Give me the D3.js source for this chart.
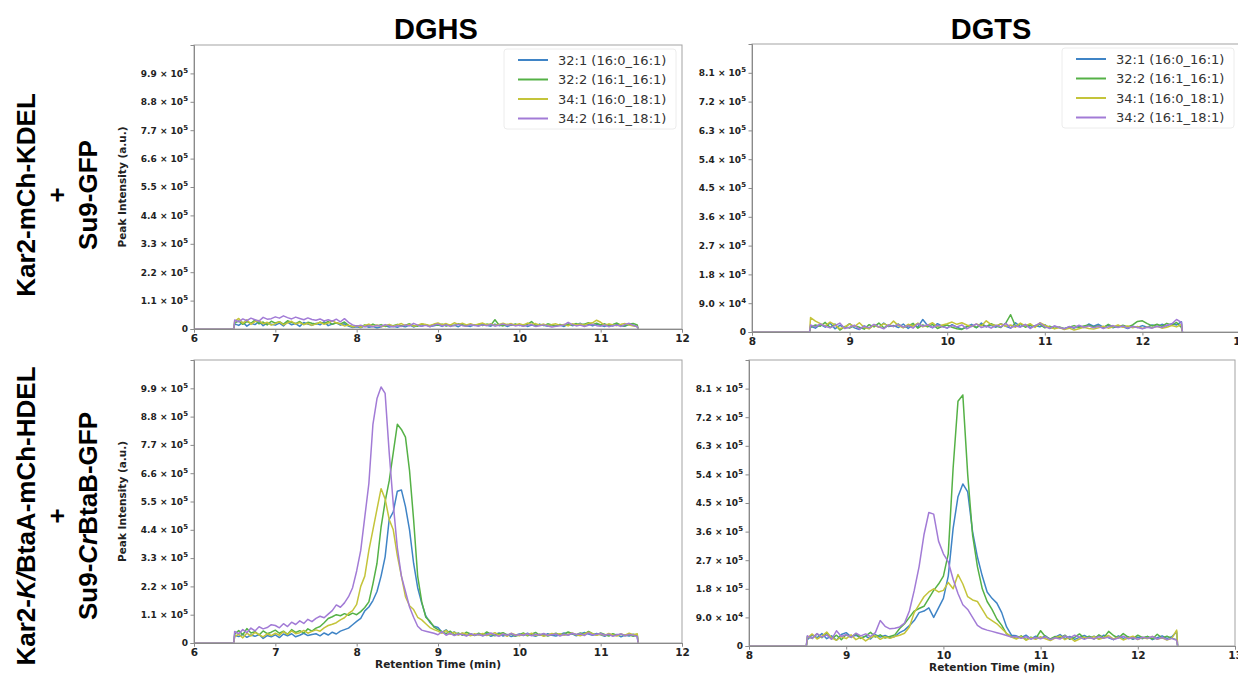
<!DOCTYPE html>
<html>
<head>
<meta charset="utf-8">
<script src="https://cdn.jsdelivr.net/npm/d3@7"></script>
<style>
  body { margin: 0; background: #fff; }
  svg { display: block; }
</style>
</head>
<body>
<svg id="chart" width="1238" height="678"></svg>
<script>
// lipid species shown in every panel
const lipidNames = ["32:1 (16:0_16:1)", "32:2 (16:1_16:1)", "34:1 (16:0_18:1)", "34:2 (16:1_18:1)"];
const lipidColors = ["#3f84c6", "#55b146", "#c4c43a", "#a27bd6"];

const columnTitles = ["DGHS", "DGTS"];

// axis ticks (intensity in units of 10^4 a.u.)
const dghsTimeTicks = [6, 7, 8, 9, 10, 11, 12];
const dgtsTimeTicks = [8, 9, 10, 11, 12, 13];
const dghsIntTicks = [0, 11, 22, 33, 44, 55, 66, 77, 88, 99];
const dgtsIntTicks = [0, 9, 18, 27, 36, 45, 54, 63, 72, 81];

// retention time (min)
const dghsTime = [
  6.00, 6.49,
  6.50, 6.55, 6.60, 6.65, 6.70, 6.75, 6.80, 6.85, 6.90, 6.95,
  7.00, 7.05, 7.10, 7.15, 7.20, 7.25, 7.30, 7.35, 7.40, 7.45,
  7.50, 7.55, 7.60, 7.65, 7.70, 7.75, 7.80, 7.85, 7.90, 7.95,
  8.00, 8.05, 8.10, 8.15, 8.20, 8.25, 8.30, 8.35, 8.40, 8.45,
  8.50, 8.55, 8.60, 8.65, 8.70, 8.75, 8.80, 8.85, 8.90, 8.95,
  9.00, 9.05, 9.10, 9.15, 9.20, 9.25, 9.30, 9.35, 9.40, 9.45,
  9.50, 9.55, 9.60, 9.65, 9.70, 9.75, 9.80, 9.85, 9.90, 9.95,
  10.00, 10.05, 10.10, 10.15, 10.20, 10.25, 10.30, 10.35, 10.40, 10.45,
  10.50, 10.55, 10.60, 10.65, 10.70, 10.75, 10.80, 10.85, 10.90, 10.95,
  11.00, 11.05, 11.10, 11.15, 11.20, 11.25, 11.30, 11.35, 11.40, 11.45,
  11.46
];

const dgtsTime = [
  8.00, 8.59,
  8.60, 8.65, 8.70, 8.75, 8.80, 8.85, 8.90, 8.95,
  9.00, 9.05, 9.10, 9.15, 9.20, 9.25, 9.30, 9.35, 9.40, 9.45,
  9.50, 9.55, 9.60, 9.65, 9.70, 9.75, 9.80, 9.85, 9.90, 9.95,
  10.00, 10.05, 10.10, 10.15, 10.20, 10.25, 10.30, 10.35, 10.40, 10.45,
  10.50, 10.55, 10.60, 10.65, 10.70, 10.75, 10.80, 10.85, 10.90, 10.95,
  11.00, 11.05, 11.10, 11.15, 11.20, 11.25, 11.30, 11.35, 11.40, 11.45,
  11.50, 11.55, 11.60, 11.65, 11.70, 11.75, 11.80, 11.85, 11.90, 11.95,
  12.00, 12.05, 12.10, 12.15, 12.20, 12.25, 12.30, 12.35, 12.40,
  12.41
];

// ---- DGHS, Kar2-mCh-KDEL + Su9-GFP (x10^4) ----
const dghsCtrl321 = [0, 0,
  2.0, 1.4, 2.6, 1.1, 2.2, 1.7, 2.9, 1.3, 2.4, 1.8,
  1.5, 2.3, 1.2, 2.7, 1.6, 2.1, 1.0, 2.5, 1.9, 1.4,
  2.2, 1.6, 2.8, 1.3, 1.9, 2.4, 1.5, 2.0, 1.1, 0.6,
  0.9, 0.5, 1.2, 0.7, 1.0, 0.4, 0.9, 1.3, 0.8, 1.1,
  0.7, 1.2, 0.9, 1.5, 0.8, 1.4, 1.1, 1.7, 1.0, 1.3,
  1.6, 1.0, 1.8, 1.2, 1.5, 0.9, 1.7, 1.3, 1.0, 1.6,
  1.2, 1.8, 1.4, 1.1, 1.9, 1.3, 1.6, 1.0, 1.5, 1.8,
  1.3, 1.7, 1.0, 1.5, 1.2, 1.9, 1.4, 1.1, 1.6, 1.2,
  1.5, 1.0, 1.8, 1.3, 1.6, 2.2, 1.4, 1.9, 1.2, 1.7,
  1.4, 1.0, 1.6, 1.2, 1.8, 1.3, 1.1, 1.7, 1.5, 1.0,
  0];
const dghsCtrl322 = [0, 0,
  2.4, 3.1, 1.8, 2.9, 2.2, 3.5, 2.0, 2.7, 1.6, 3.0,
  2.3, 2.8, 1.9, 3.2, 2.5, 2.1, 2.9, 1.7, 2.6, 2.2,
  1.9, 2.6, 2.1, 2.9, 1.8, 2.4, 2.0, 2.7, 1.4, 1.0,
  1.3, 0.8, 1.6, 1.1, 1.9, 1.2, 1.7, 1.0, 1.5, 1.3,
  1.8, 1.2, 1.5, 2.0, 1.4, 1.1, 1.9, 1.5, 1.2, 1.7,
  1.4, 1.9, 1.1, 1.6, 1.3, 2.0, 1.5, 1.2, 1.8, 1.4,
  1.7, 1.3, 1.9, 1.5, 3.6, 1.6, 1.2, 1.8, 1.4, 1.9,
  1.5, 1.2, 1.8, 2.9, 1.4, 1.7, 1.3, 2.0, 1.6, 1.2,
  1.8, 1.4, 1.9, 1.6, 2.1, 1.5, 1.9, 2.4, 1.7, 2.2,
  1.6, 2.0, 1.4, 1.8, 2.3, 1.5, 1.2, 1.9, 2.1, 1.6,
  0];
const dghsCtrl341 = [0, 0,
  3.0, 4.1, 2.2, 3.6, 1.8, 2.9, 3.3, 2.0, 2.6, 1.5,
  2.1, 2.8, 1.6, 2.4, 3.0, 1.9, 2.5, 1.7, 2.2, 1.4,
  2.0, 2.6, 1.8, 2.3, 3.2, 2.4, 1.9, 1.2, 1.5, 0.8,
  1.2, 0.7, 1.4, 1.9, 1.0, 1.6, 0.9, 1.3, 1.8, 1.1,
  1.6, 2.1, 1.3, 1.8, 1.1, 1.5, 2.0, 1.7, 1.4, 1.9,
  2.3, 1.7, 2.1, 1.5, 2.4, 1.8, 2.2, 1.6, 2.0, 1.5,
  1.9, 2.3, 1.6, 2.0, 1.4, 1.8, 2.2, 1.7, 2.1, 1.5,
  2.0, 1.6, 2.3, 1.8, 2.1, 1.5, 1.9, 1.3, 1.7, 2.0,
  1.4, 1.8, 1.2, 2.0, 1.6, 1.9, 1.5, 2.2, 2.4, 3.4,
  2.6, 1.4, 2.0, 1.6, 1.3, 1.8, 2.1, 1.5, 1.2, 1.0,
  0];
const dghsCtrl342 = [0, 0,
  3.5, 2.8, 3.9, 3.2, 4.2, 3.6, 3.1, 4.5, 3.8, 4.0,
  4.7, 4.2, 5.1, 4.4, 3.9, 4.6, 4.1, 3.6, 4.3, 3.7,
  3.4, 3.9, 3.1, 3.6, 3.0, 3.8, 2.8, 4.0, 2.6, 1.6,
  1.1, 1.5, 0.8, 1.3, 0.9, 1.4, 1.0, 1.7, 1.2, 0.9,
  1.3, 1.0, 1.6, 1.2, 2.2, 1.5, 1.1, 1.4, 0.9, 1.5,
  1.9, 1.2, 1.6, 1.0, 1.4, 1.8, 1.3, 1.1, 1.6, 1.4,
  1.2, 1.6, 1.3, 1.8, 1.1, 1.5, 1.9, 1.4, 1.7, 1.2,
  1.5, 1.1, 1.4, 1.7, 1.0, 1.3, 1.6, 1.2, 0.8, 1.1,
  1.3, 1.6, 2.6, 1.7, 1.2, 1.5, 1.0, 1.4, 1.8, 1.3,
  1.1, 1.6, 0.9, 1.3, 1.5, 1.0, 1.8, 2.2, 1.4, 0.9,
  0];

// ---- DGHS, Kar2-K/BtaA-mCh-HDEL + Su9-CrBtaB-GFP (x10^4) ----
const dghsBta321 = [0, 0,
  3.0, 2.5, 3.4, 2.2, 3.1, 2.6, 3.3, 1.8, 2.9, 2.4,
  3.2, 2.1, 3.5, 2.8, 3.6, 2.4, 3.0, 3.8, 2.9, 3.3,
  3.6, 2.8, 3.9, 3.1, 4.2, 3.5, 4.6, 5.2, 5.8, 7.1,
  8.4, 9.6, 12.5, 14.0, 16.5, 20.0, 26.0, 33.5, 48.0, 51.0,
  59.0, 59.5, 53.0, 44.0, 31.0, 21.5, 15.5, 10.5, 8.0, 6.5,
  6.0, 4.2, 5.1, 3.6, 4.3, 3.2, 3.8, 2.9, 3.5, 3.1,
  3.4, 2.8, 3.6, 2.6, 3.2, 3.9, 2.7, 3.3, 2.5, 3.0,
  3.5, 2.9, 3.8, 3.1, 2.6, 3.4, 2.8, 3.6, 3.0, 2.7,
  3.3, 3.9, 3.2, 3.6, 2.8, 3.4, 4.1, 3.5, 3.0, 3.7,
  3.2, 2.6, 3.5, 2.9, 3.3, 2.4, 3.1, 2.7, 3.4, 2.8,
  0];
const dghsBta322 = [0, 0,
  3.5, 4.8, 3.2, 5.6, 3.9, 4.4, 3.1, 4.7, 3.6, 4.2,
  5.0, 3.8, 4.6, 3.4, 5.2, 4.1, 4.8, 3.9, 5.5, 4.6,
  5.8, 6.4, 7.9, 9.5, 10.2, 11.0, 10.6, 11.4, 10.8, 11.6,
  11.0, 12.2, 13.8, 16.0, 23.0, 31.0, 45.0, 55.0, 63.0, 74.0,
  85.0, 83.0, 80.0, 67.0, 48.0, 26.0, 16.0, 10.0, 8.5, 6.2,
  5.2, 4.4, 3.6, 4.6, 3.2, 3.9, 3.0, 4.2, 3.5, 2.9,
  3.8, 3.1, 4.3, 3.4, 2.8, 3.6, 4.0, 3.1, 3.5, 2.6,
  3.2, 3.9, 2.8, 3.4, 4.1, 3.0, 3.6, 2.7, 3.3, 3.8,
  3.0, 3.5, 4.3, 3.7, 3.2, 3.9, 3.4, 4.5, 3.6, 3.1,
  3.9, 3.3, 2.7, 3.6, 3.0, 3.4, 2.8, 3.2, 2.6, 3.1,
  0];
const dghsBta341 = [0, 0,
  2.6, 3.4, 2.0, 3.8, 2.7, 4.1, 3.2, 2.4, 3.6, 2.9,
  3.8, 3.0, 4.4, 3.3, 4.7, 3.6, 4.0, 4.9, 3.8, 4.5,
  5.1, 4.6, 5.9, 6.8, 7.3, 7.9, 9.0, 9.8, 11.5, 12.6,
  15.0, 22.0, 26.0, 36.0, 44.0, 52.0, 60.0, 56.0, 48.0, 44.0,
  34.0, 26.0, 18.0, 14.5, 13.0, 10.0, 9.0, 7.5, 6.0, 5.2,
  4.6, 3.8, 4.9, 3.4, 4.2, 3.1, 3.9, 3.5, 2.8, 3.6,
  3.1, 3.7, 2.9, 3.4, 4.0, 3.0, 3.5, 2.6, 3.8, 3.2,
  2.8, 3.5, 3.1, 3.8, 2.9, 3.4, 2.6, 3.1, 3.7, 3.3,
  3.6, 3.0, 3.4, 3.9, 3.2, 2.8, 3.5, 4.2, 3.6, 3.0,
  3.4, 2.9, 3.7, 3.1, 2.7, 3.5, 3.0, 3.8, 3.2, 3.6,
  0];
const dghsBta342 = [0, 0,
  4.5, 3.6, 5.2, 4.0, 5.8, 4.7, 6.3, 5.5, 6.0, 7.1,
  6.8, 5.9, 7.5, 6.4, 8.1, 7.2, 8.6, 7.6, 9.2, 8.3,
  9.6, 10.4, 9.8, 11.2, 12.6, 14.8, 13.9, 15.6, 18.0, 21.5,
  28.0, 36.0, 49.0, 62.0, 85.0, 95.0, 99.5, 97.0, 74.0, 54.0,
  37.0, 26.0, 20.0, 14.0, 10.0, 6.5, 5.0, 4.6, 4.2, 3.8,
  3.2, 4.4, 3.0, 3.8, 2.9, 3.5, 3.3, 2.7, 3.6, 3.0,
  3.4, 2.8, 3.2, 3.9, 3.1, 2.6, 3.5, 3.0, 3.7, 2.9,
  3.3, 3.0, 3.6, 2.8, 3.4, 3.1, 3.7, 2.9, 3.2, 3.5,
  2.7, 3.4, 3.0, 3.8, 3.3, 3.6, 2.9, 3.9, 3.1, 3.4,
  3.7, 3.0, 3.4, 2.6, 3.2, 3.5, 2.8, 3.3, 3.0, 2.5,
  0];

// ---- DGTS, Kar2-mCh-KDEL + Su9-GFP (x10^4) ----
const dgtsCtrl321 = [0, 0,
  1.8, 1.2, 2.4, 1.5, 2.8, 1.0, 2.1, 1.4,
  2.6, 1.3, 0.8, 1.9, 1.1, 2.3, 1.5, 2.8, 1.7, 2.0,
  1.4, 2.5, 1.1, 2.2, 1.6, 3.9, 2.0, 1.3, 2.6, 1.8,
  1.2, 2.3, 1.5, 0.9, 1.7, 2.4, 1.3, 2.8, 1.6, 2.1,
  1.5, 2.6, 1.8, 1.2, 2.9, 1.7, 2.2, 1.4, 2.0, 1.6,
  2.3, 1.1, 1.8, 1.3, 1.0, 1.6, 1.2, 1.9, 1.4, 2.5,
  1.8, 2.4, 1.5, 2.1, 1.3, 2.0, 1.6, 1.1, 1.8, 1.4,
  2.0, 1.5, 2.2, 1.7, 2.4, 1.9, 2.6, 2.2, 3.2,
  0];
const dgtsCtrl322 = [0, 0,
  1.5, 2.2, 1.8, 3.0, 1.4, 2.5, 0.6, 1.7,
  1.2, 2.0, 1.5, 0.9, 2.3, 1.6, 2.8, 1.3, 2.1, 1.7,
  2.5, 1.4, 1.9, 2.7, 1.2, 2.2, 1.6, 2.4, 1.1, 1.8,
  2.2, 1.5, 1.0, 0.8, 1.6, 2.0, 1.4, 2.3, 1.7, 2.6,
  1.9, 1.4, 2.8, 5.4, 1.8, 2.6, 1.5, 2.2, 1.7, 2.4,
  1.3, 1.8, 1.1, 1.6, 1.0, 1.5, 2.0, 1.4, 1.9, 2.2,
  1.5, 2.0, 1.3, 2.4, 1.7, 1.5, 2.1, 1.6, 2.2, 3.3,
  3.5, 2.6, 1.9, 2.4, 1.8, 2.7, 2.1, 3.0, 1.4,
  0];
const dgtsCtrl341 = [0, 0,
  4.5, 3.4, 2.6, 1.9, 3.1, 2.2, 1.0, 1.6,
  2.5, 1.7, 2.9, 1.4, 1.0, 2.2, 1.5, 2.6, 1.9, 3.4,
  2.0, 1.3, 2.4, 1.8, 2.8, 1.6, 2.1, 2.9, 1.7, 2.2,
  2.6, 3.1, 2.4, 2.9, 2.2, 1.7, 2.5, 1.9, 3.5, 2.3,
  2.0, 2.5, 1.8, 2.2, 1.5, 2.8, 1.9, 2.6, 1.4, 2.9,
  2.1, 1.5, 1.0, 1.4, 0.8, 1.2, 0.6, 1.0, 1.5, 1.1,
  0.9, 1.3, 1.8, 1.2, 1.6, 2.2, 1.5, 1.9, 1.3, 1.7,
  1.1, 1.6, 1.3, 1.8, 1.2, 1.5, 2.0, 1.6, 2.4,
  0];
const dgtsCtrl342 = [0, 0,
  2.2, 1.6, 2.5, 1.8, 1.3, 2.0, 2.8, 1.1,
  1.5, 2.1, 0.9, 1.8, 1.3, 2.4, 1.6, 1.0, 2.2, 1.7,
  2.4, 1.5, 2.0, 1.2, 2.6, 1.8, 2.3, 1.4, 2.1, 1.6,
  1.3, 2.0, 1.6, 2.2, 1.0, 1.8, 2.5, 1.4, 1.9, 1.2,
  2.1, 1.6, 2.7, 1.3, 1.9, 1.5, 2.4, 1.1, 2.0, 2.8,
  1.6, 1.2, 1.9, 1.4, 1.0, 1.7, 1.3, 2.1, 1.5, 1.9,
  1.3, 1.8, 1.1, 1.6, 2.0, 1.4, 1.9, 1.2, 1.7, 1.4,
  1.0, 1.5, 1.2, 1.8, 1.4, 2.1, 2.5, 3.9, 3.0,
  0];

// ---- DGTS, Kar2-K/BtaA-mCh-HDEL + Su9-CrBtaB-GFP (x10^4) ----
const dgtsBta321 = [0, 0,
  2.0, 3.5, 2.6, 3.9, 2.3, 3.2, 1.8, 3.6,
  4.2, 2.9, 3.4, 2.5, 3.1, 2.2, 3.6, 2.8, 3.3, 2.6,
  3.0, 4.2, 5.0, 6.4, 8.0, 10.5, 11.0, 12.0, 9.0, 12.0,
  15.0, 22.0, 37.0, 47.0, 51.0, 48.5, 36.0, 28.0, 22.0, 17.0,
  15.0, 13.5, 10.5, 6.0, 3.4, 3.2, 2.6, 3.4, 2.2, 3.1,
  2.4, 3.2, 2.0, 2.8, 3.6, 2.3, 3.0, 2.1, 2.7, 3.3,
  2.5, 3.1, 2.2, 3.4, 2.6, 2.0, 3.2, 2.4, 2.9, 2.1,
  2.8, 2.3, 3.0, 2.0, 2.6, 3.2, 2.4, 2.9, 4.5,
  0];
const dgtsBta322 = [0, 0,
  3.0, 2.4, 3.8, 2.6, 4.1, 2.2, 3.4, 2.0,
  3.6, 2.7, 3.9, 2.4, 3.1, 4.3, 2.8, 3.5, 2.5, 3.0,
  3.5, 5.5, 7.0, 9.0, 11.0, 11.8, 12.5, 15.0, 17.5, 19.5,
  22.0, 29.0, 56.0, 77.0, 79.0, 54.0, 35.0, 25.0, 18.0, 14.0,
  11.5, 8.5, 6.5, 3.8, 3.0, 2.4, 3.2, 2.0, 2.8, 2.3,
  4.8, 2.9, 2.2, 3.0, 2.5, 3.4, 2.1, 2.7, 3.8, 2.4,
  3.1, 2.2, 3.5, 2.6, 4.6, 3.3, 2.5, 3.9, 2.8, 2.3,
  3.4, 2.6, 3.0, 2.2, 3.7, 2.5, 3.1, 2.4, 2.0,
  0];
const dgtsBta341 = [0, 0,
  2.5, 3.8, 2.2, 3.1, 4.4, 2.6, 1.8, 3.0,
  2.3, 3.5, 2.0, 2.8, 1.6, 2.6, 3.3, 2.1, 2.9, 2.4,
  3.0, 3.4, 4.0, 6.0, 10.5, 13.0, 15.5, 17.0, 18.0, 17.0,
  17.5, 20.0, 18.0, 22.5, 19.5, 15.5, 14.5, 14.0, 11.5, 9.0,
  8.0, 7.0, 5.5, 4.0, 2.8, 2.2, 3.0, 1.8, 2.6, 2.1,
  2.9, 2.3, 1.7, 2.5, 3.2, 2.0, 2.7, 1.5, 2.2, 2.8,
  2.4, 3.0, 2.1, 2.6, 3.3, 2.2, 2.8, 1.9, 2.5, 3.1,
  2.0, 2.7, 2.3, 3.0, 2.1, 2.6, 1.9, 2.4, 5.0,
  0];
const dgtsBta342 = [0, 0,
  3.2, 2.4, 3.9, 2.8, 3.5, 2.1, 4.8, 3.0,
  3.6, 2.7, 4.0, 3.2, 3.8, 3.0, 4.2, 8.0, 6.2, 5.4,
  5.6, 6.0, 7.2, 11.0, 17.5, 25.0, 35.0, 42.0, 41.5, 33.0,
  29.0, 26.5, 21.0, 16.5, 13.0, 11.5, 9.0, 6.5, 5.5, 5.0,
  4.6, 4.2, 3.8, 3.3, 2.8, 3.0, 2.4, 2.9, 2.2, 2.7,
  2.3, 2.9, 2.0, 2.6, 2.2, 3.2, 2.5, 3.4, 2.8, 2.1,
  2.7, 2.2, 3.0, 2.4, 2.8, 2.0, 2.5, 3.1, 2.3, 2.6,
  2.1, 2.8, 2.4, 3.0, 2.2, 2.7, 2.0, 2.4, 1.8,
  0];

// ---------------------------------------------------------------
const svg = d3.select("#chart");
const TICK_FONT = "'DejaVu Sans', sans-serif";
const HEAD_FONT = "'Liberation Sans', Arial, sans-serif";

const panels = [
  { time: dghsTime, series: [dghsCtrl321, dghsCtrl322, dghsCtrl341, dghsCtrl342],
    xd: [6, 12], xr: [194, 682], yd: [0, 110], yr: [329, 45],
    xt: dghsTimeTicks, yt: dghsIntTicks, legend: true, yLabel: true, xLabel: false },
  { time: dgtsTime, series: [dgtsCtrl321, dgtsCtrl322, dgtsCtrl341, dgtsCtrl342],
    xd: [8, 13], xr: [752, 1240], yd: [0, 90], yr: [332, 44],
    xt: dgtsTimeTicks, yt: dgtsIntTicks, legend: true, yLabel: false, xLabel: false },
  { time: dghsTime, series: [dghsBta321, dghsBta322, dghsBta341, dghsBta342],
    xd: [6, 12], xr: [194, 682], yd: [0, 110], yr: [643, 360],
    xt: dghsTimeTicks, yt: dghsIntTicks, legend: false, yLabel: true, xLabel: true },
  { time: dgtsTime, series: [dgtsBta321, dgtsBta322, dgtsBta341, dgtsBta342],
    xd: [8, 13], xr: [749, 1235], yd: [0, 90], yr: [646, 360],
    xt: dgtsTimeTicks, yt: dgtsIntTicks, legend: false, yLabel: false, xLabel: true }
];

function sciLabel(sel) {
  sel.each(function(d) {
    const t = d3.select(this).text(null);
    if (d === 0) { t.text("0"); return; }
    const v = Math.round(d * 1e4);
    const e = Math.floor(Math.log10(v));
    const m = (v / Math.pow(10, e)).toFixed(1);
    t.append("tspan").text(m + " × 10");
    t.append("tspan").attr("dy", -4).attr("font-size", 7).text(String(e));
  });
}

panels.forEach((p, pi) => {
  p.series.forEach((s, i) => {
    if (s.length !== p.time.length) throw new Error("panel " + pi + " series " + i + " has " + s.length + " vs " + p.time.length);
  });

  const x = d3.scaleLinear().domain(p.xd).range(p.xr);
  const y = d3.scaleLinear().domain(p.yd).range(p.yr);
  const g = svg.append("g");

  const line = d3.line()
    .x(d => x(d[0]))
    .y(d => y(d[1]));

  p.series.forEach((s, i) => {
    g.append("path")
      .datum(p.time.map((t, k) => [t, s[k]]))
      .attr("fill", "none")
      .attr("stroke", lipidColors[i])
      .attr("stroke-width", 1.5)
      .attr("stroke-linejoin", "round")
      .attr("d", line);
  });

  // frame
  g.append("rect")
    .attr("x", p.xr[0]).attr("y", p.yr[1])
    .attr("width", p.xr[1] - p.xr[0]).attr("height", p.yr[0] - p.yr[1])
    .attr("fill", "none").attr("stroke", "#a3a3a3").attr("stroke-width", 1);

  const xAxis = g.append("g")
    .attr("transform", `translate(0,${p.yr[0]})`)
    .call(d3.axisBottom(x).tickValues(p.xt).tickSize(3.5).tickPadding(2).tickFormat(d3.format("d")));
  const yAxis = g.append("g")
    .attr("transform", `translate(${p.xr[0]},0)`)
    .call(d3.axisLeft(y).tickValues(p.yt).tickSize(3.5).tickPadding(2.5));

  [xAxis, yAxis].forEach(a => {
    a.select(".domain").attr("stroke", "#8a8a8a");
    a.selectAll(".tick line").attr("stroke", "#8a8a8a");
    a.selectAll(".tick text")
      .attr("font-family", TICK_FONT)
      .attr("font-weight", "bold")
      .attr("fill", "#222");
  });
  xAxis.selectAll(".tick text").attr("font-size", 10.5);
  yAxis.selectAll(".tick text").attr("font-size", 9).call(sciLabel);

  if (p.yLabel) {
    g.append("text")
      .attr("transform", `translate(122,${(p.yr[0] + p.yr[1]) / 2}) rotate(-90)`)
      .attr("text-anchor", "middle")
      .attr("dominant-baseline", "central")
      .attr("font-family", TICK_FONT).attr("font-weight", "bold")
      .attr("font-size", 10.5).attr("fill", "#222")
      .text("Peak Intensity (a.u.)");
  }
  if (p.xLabel) {
    g.append("text")
      .attr("x", (p.xr[0] + p.xr[1]) / 2).attr("y", p.yr[0] + 25)
      .attr("text-anchor", "middle")
      .attr("font-family", TICK_FONT).attr("font-weight", "bold")
      .attr("font-size", 10.5).attr("fill", "#222")
      .text("Retention Time (min)");
  }

  if (p.legend) {
    const right = p.xr[1] - 6, top = p.yr[1] + 4;
    const lg = g.append("g");
    lg.append("rect")
      .attr("x", right - 172).attr("y", top)
      .attr("width", 172).attr("height", 80)
      .attr("rx", 3)
      .attr("fill", "#fff").attr("fill-opacity", 0.8)
      .attr("stroke", "#ececec");
    lipidNames.forEach((name, i) => {
      const ly = p.yr[1] + 15 + i * 19.5;
      lg.append("line")
        .attr("x1", right - 158).attr("x2", right - 128)
        .attr("y1", ly).attr("y2", ly)
        .attr("stroke", lipidColors[i]).attr("stroke-width", 2);
      lg.append("text")
        .attr("x", right - 118).attr("y", ly)
        .attr("dominant-baseline", "central")
        .attr("font-family", TICK_FONT).attr("font-size", 13)
        .attr("fill", "#333")
        .text(name);
    });
  }
});

// column titles
[[436, columnTitles[0]], [991, columnTitles[1]]].forEach(([cx, label]) => {
  svg.append("text")
    .attr("x", cx).attr("y", 39)
    .attr("text-anchor", "middle")
    .attr("font-family", HEAD_FONT).attr("font-weight", "bold")
    .attr("font-size", 29).attr("fill", "#000")
    .text(label);
});

// row labels (strain constructs)
function rowLabel(cy, parts1, parts2) {
  const lines = [[35, parts1], [57, [["+", false]]], [97, parts2]];
  lines.forEach(([bx, parts], li) => {
    const t = svg.append("text")
      .attr("transform", `translate(${bx},${cy}) rotate(-90)`)
      .attr("text-anchor", "middle")
      .attr("font-family", HEAD_FONT).attr("font-weight", "bold")
      .attr("font-size", 26).attr("fill", "#000");
    if (li === 1) t.attr("dominant-baseline", "central");
    parts.forEach(([s, it]) => {
      t.append("tspan").attr("font-style", it ? "italic" : "normal").text(s);
    });
  });
}
rowLabel(195, [["Kar2-mCh-KDEL", false]], [["Su9-GFP", false]]);
rowLabel(516,
  [["Kar2-", false], ["K/", true], ["BtaA-mCh-HDEL", false]],
  [["Su9-", false], ["Cr", true], ["BtaB-GFP", false]]);
</script>
</body>
</html>
